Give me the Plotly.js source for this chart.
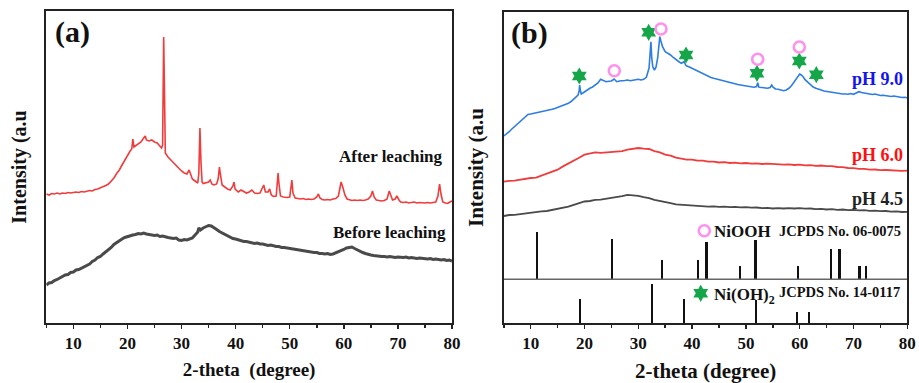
<!DOCTYPE html>
<html>
<head>
<meta charset="utf-8">
<script src="https://cdn.plot.ly/plotly-3.0.1.min.js"></script>
<style>html,body{margin:0;padding:0;background:#fff}#chart{width:919px;height:383px}</style>
</head>
<body>
<div id="chart"></div>
<script>
// ---------- Panel (a): XRD patterns (2-theta, intensity a.u.) ----------
const afterLeaching = [[5,129],[5.5,128],[6,129.5],[6.5,129],[7,130],[7.5,129],[8,130],[8.5,129.5],[9,130.5],[9.5,130],[10,130.5],[10.5,131],[11,130.5],[11.5,131.5],[12,131],[12.5,132],[13,132.5],[13.5,132],[14,133.5],[14.5,134],[15,135],[15.5,136],[16,137.5],[16.5,139],[17,141.5],[17.5,145],[18,149.5],[18.5,153],[19,158],[19.5,163],[20,168],[20.5,172],[20.8,174],[21,184],[21.2,176],[21.5,177],[22,179],[22.5,181],[23,185],[23.3,187],[23.5,183],[24,182],[24.5,183],[25,181],[25.5,180],[26,177],[26.3,175],[26.5,178],[26.6,240],[26.7,286],[26.8,250],[26.9,180],[27,170],[27.5,166],[28,163],[28.5,160],[29,157],[29.5,154],[30,152],[30.5,150],[31,149],[31.4,153],[31.8,146],[32,144],[32.5,142],[33,140],[33.2,150],[33.4,195],[33.6,160],[33.8,141],[34,139.5],[34.5,140],[35,141],[35.3,143],[35.6,139],[36,138],[36.5,139],[36.8,145],[37,156],[37.2,148],[37.5,138],[38,136],[38.5,134],[39,133],[39.5,137],[39.7,141],[39.9,134],[40.5,131],[41,133],[41.5,131.5],[42,130],[42.5,131],[43,133],[43.5,130],[44,129.5],[44.5,130],[45,136],[45.2,138],[45.5,131],[46,131],[46.3,134],[46.6,128],[47,126.5],[47.5,127],[47.7,140],[47.85,150],[48,140],[48.3,127],[48.8,126],[49.5,125.5],[50,126],[50.2,135],[50.4,143],[50.6,130],[51,125],[51.5,124.5],[52,124],[52.5,124.5],[53,123.5],[53.5,124],[54,123.5],[54.5,124],[55,126],[55.3,129],[55.6,125],[56,123.5],[56.5,123],[57,123.5],[57.5,123],[58,124],[58.5,124.5],[59,127],[59.3,137],[59.5,141],[59.8,136],[60.2,128],[60.6,124],[61,123],[61.5,122.5],[62,123],[62.5,122.5],[63,123],[63.5,122.5],[64,123],[64.5,124],[65,127],[65.3,132],[65.6,126],[66,123],[66.5,122.5],[67,122],[67.5,122.5],[68,124],[68.4,132],[68.7,127],[69,123],[69.5,124],[69.8,127],[70.2,123],[70.5,121],[71,120.5],[71.5,121],[72,120],[72.5,120.5],[73,121],[73.5,120],[74,120.5],[75,120],[75.5,120.5],[76,120],[76.5,120.5],[77,121],[77.4,127],[77.7,139],[78,128],[78.3,121],[78.8,120],[79.2,119.5],[79.6,121],[80,122]];

const beforeLeaching = [[5,38],[5.5,40],[6,40.5],[6.5,42.5],[7,43.5],[7.5,45],[8,46],[8.5,48],[9,48.5],[9.5,50.5],[10,51],[10.5,53],[11,53.5],[11.5,55],[12,56],[12.5,58],[13,59],[13.5,61.5],[14,63],[14.5,65.5],[15,66.5],[15.5,69],[16,71],[16.5,73.5],[17,75.5],[17.5,78.5],[18,80.5],[18.5,82.5],[19,84],[19.5,85.5],[20,86.5],[20.5,87],[21,88],[21.5,88.5],[22,89.5],[22.5,89],[23,90],[23.5,89],[24,88.5],[24.5,88.5],[25,87.5],[25.5,88],[26,86.5],[26.5,87],[27,86],[27.5,85.5],[28,85],[28.5,84.5],[29,85],[29.5,83],[30,82.5],[30.5,83.5],[31,83],[31.5,84],[32,85],[32.5,88],[33,91],[33.2,95],[33.5,93],[34,95],[34.5,96.5],[35,97.5],[35.5,97],[36,95.5],[36.5,93.5],[37,91.5],[37.5,90],[38,88.5],[38.5,87],[39,86],[39.5,84.5],[40,84],[40.5,83],[41,82.5],[41.5,81.5],[42,81.5],[42.5,81],[43,80.5],[43.5,79.5],[44,80],[44.5,79],[45,79],[45.5,78.5],[46,77.5],[46.5,78],[47,77],[47.5,76.5],[48,76.5],[48.5,75.5],[49,75.5],[49.5,75],[50,74.5],[50.5,74.5],[51,73.5],[51.5,73.5],[52,73],[52.5,72.5],[53,72],[53.5,71.5],[54,71],[54.5,70.5],[55,70.5],[55.5,69.5],[56,69.5],[56.5,69],[57,69.5],[57.5,68.5],[58,69],[58.5,70],[59,71],[59.5,72.5],[60,73.5],[60.5,75],[61,75.5],[61.5,76],[62,74.5],[62.5,73],[63,72],[63.5,70.5],[64,69.5],[64.5,68.5],[65,68],[65.5,67.5],[66,67],[66.5,67],[67,66.5],[67.5,66.5],[68,66],[68.5,66.5],[69,66],[69.5,65.5],[70,66],[70.5,65.5],[71,65.5],[71.5,66],[72,65],[72.5,65.5],[73,65],[73.5,64.5],[74,65],[74.5,64.5],[75,64.5],[75.5,64],[76,64.5],[76.5,63.5],[77,64],[77.5,63.5],[78,63],[78.5,63.5],[79,62.5],[79.5,63],[80,62]];

// ---------- Panel (b) ----------
const pH90 = [[5,187],[5.5,189],[6,191.3],[6.5,194],[7,196.3],[7.5,199],[8,201.3],[8.5,203.5],[9,206.3],[9.5,208.5],[10,209],[10.5,209.5],[11,210.5],[11.5,210.5],[12,211.3],[12.5,212],[13,212.5],[13.5,213],[14,213.7],[14.5,214.5],[15,215.5],[15.5,216.5],[16,217],[16.5,218.5],[17,219.7],[17.5,221.5],[18,223.7],[18.5,226],[18.8,228],[19,232],[19.1,238],[19.25,232],[19.4,229],[19.7,230],[20,231.3],[20.5,233],[21,234.7],[21.5,236],[22,238],[22.5,240],[23,243.7],[23.5,242.3],[24,241.3],[24.5,241.8],[25,242],[25.5,244],[26,241.3],[26.5,242],[27,242],[27.5,242.5],[28,243],[28.5,242.2],[29,242.7],[29.5,243.3],[30,243.7],[30.5,243],[31,243.7],[31.5,245.7],[31.8,250],[32,255],[32.2,270],[32.35,281.3],[32.5,265],[32.7,256],[33,253],[33.3,256],[33.6,265],[33.8,275],[34,286.3],[34.2,282],[34.5,276.3],[35,271.3],[35.5,270],[36,268],[36.5,265.5],[37,263],[37.5,261.5],[38,259.7],[38.5,261.3],[38.8,258],[39,257],[39.5,256],[40,254.7],[40.5,253],[41,251.5],[41.5,250.5],[42,249],[42.5,248],[43,247],[43.5,245.5],[44,244.7],[44.5,244],[45,243],[45.5,242],[46,241.3],[46.5,241],[47,240],[47.5,239.5],[48,239],[48.5,238.5],[49,238],[49.5,237.5],[50,237],[50.5,236.5],[51,236.5],[51.5,235.7],[52,236.5],[52.2,240.3],[52.4,236],[52.5,235.7],[53,235.5],[53.5,235],[54,234.7],[54.5,235.5],[54.8,238],[55,236],[55.5,234],[56,233.7],[56.5,233],[57,232.3],[57.5,233],[58,234.7],[58.5,237.5],[59,241.3],[59.5,245],[59.8,248],[60,249],[60.3,248],[60.6,246.5],[61,243.3],[61.5,241],[62,238.3],[62.5,236],[63,234.7],[63.5,233.5],[64,233],[64.5,232],[65,231.5],[65.5,231],[66,230.3],[66.5,230],[67,229.5],[67.5,229.3],[68,229],[68.5,229],[69,228.8],[69.5,229.5],[70,228.7],[70.5,230],[71,231.3],[71.5,230.5],[72,230.3],[72.5,229.5],[73,229],[73.5,228.5],[74,229],[74.5,228],[75,227.5],[75.5,227.7],[76,227.3],[76.5,227],[77,226.5],[77.5,227],[78,226.3],[78.5,226],[79,225.5],[79.5,225.7],[80,225.3]];

const pH60 = [[5,141.3],[6,142.2],[7,142.3],[8,143.4],[9,143.8],[10,145],[11,145.3],[12,147.3],[13,148.8],[14,151.6],[15,153.3],[16,156.6],[17,159.2],[18,162.6],[19,165.2],[20,168.3],[21,169.2],[22,170.6],[23,170.2],[24,170.7],[25,170.8],[26,171.6],[27,171.8],[28,173.3],[29,173.8],[30,175],[31,174.3],[32,174],[33,171.8],[34,170.6],[35,168.3],[36,167.3],[37,165.3],[38,164.3],[39,163.3],[40,163.3],[41,162.3],[42,162.3],[43,161.3],[44,161.3],[45,160.5],[46,160.8],[47,160],[48,160.3],[49,159.6],[50,160],[51,159.3],[52,159.6],[53,159],[54,159.3],[55,158.8],[56,159],[57,158.4],[58,158.7],[59,158],[60,158.3],[61,157.6],[62,157.9],[63,157.2],[64,157.5],[65,156.8],[66,156.9],[67,156],[68,155.9],[69,155],[70,154.9],[71,154.1],[72,154.2],[73,153.4],[74,153.5],[75,152.8],[76,153],[77,152.5],[78,152.7],[79,152.2],[80,152.3]];

const pH45 = [[5,107],[6,108],[7,108.1],[8,108.9],[9,109.3],[10,110.5],[11,110.6],[12,111.7],[13,112],[14,113.2],[15,113.8],[16,115.5],[17,116.3],[18,118.2],[19,119.6],[20,121.5],[21,122],[22,123.2],[23,123.3],[24,124.2],[25,124.6],[26,125.9],[27,126.8],[28,128.2],[29,127.6],[30,127.2],[31,125.8],[32,124.9],[33,123.1],[34,122.2],[35,120.6],[36,119.9],[37,118.6],[38,118.2],[39,117.3],[40,117.2],[41,116.6],[42,116.8],[43,116.3],[44,116.6],[45,116.1],[46,116.4],[47,115.9],[48,116.2],[49,115.6],[50,115.9],[51,115.3],[52,115.5],[53,114.9],[54,115.1],[55,114.5],[56,114.9],[57,114.5],[58,114.9],[59,114.5],[60,114.9],[61,114.3],[62,114.5],[63,113.9],[64,114.1],[65,113.5],[66,113.8],[67,113.2],[68,113.5],[69,112.9],[70,113.2],[71,112.6],[72,112.8],[73,112.2],[74,112.4],[75,111.8],[76,112],[77,111.4],[78,111.6],[79,111],[80,111.2]];

// Reference stick patterns
const niooh_pos = [11.17, 25.11, 34.46, 41.1, 42.71, 48.96, 51.82, 59.68, 65.82, 67.43, 71.15, 72.38];
const niooh_top = [91.3, 83.7, 63, 63, 81.3, 57, 83, 57, 74, 74, 57, 57];
const niooh_base = 43.7;
const nioh2_pos = [19.1, 32.49, 38.44, 51.82, 59.55, 61.78];
const nioh2_top = [23.7, 38.7, 23.7, 23, 11.3, 11.3];

// Phase markers on pH 9.0 pattern
const star_x = [19.03, 31.93, 38.87, 52.06, 59.93, 63.09];
const star_y = [247, 290.7, 268, 249.7, 262, 248.3];
const circ_x = [25.54, 34.22, 52.19, 59.93];
const circ_y = [252.3, 294, 263.7, 276];

const FONT = 'Liberation Serif, Times New Roman, serif';
const xs = a => a.map(p => p[0]);
const ys = a => a.map(p => p[1]);

const traces = [
  {x: xs(afterLeaching), y: ys(afterLeaching), mode: 'lines', line: {color: '#f03c3c', width: 1.6}, xaxis: 'x', yaxis: 'y', name: 'After leaching'},
  {x: xs(beforeLeaching), y: ys(beforeLeaching), mode: 'lines', line: {color: '#4a4a4a', width: 3}, xaxis: 'x', yaxis: 'y', name: 'Before leaching'},
  {x: xs(pH90), y: ys(pH90), mode: 'lines', line: {color: '#2e7de2', width: 1.6}, xaxis: 'x2', yaxis: 'y2', name: 'pH 9.0'},
  {x: xs(pH60), y: ys(pH60), mode: 'lines', line: {color: '#f03c3c', width: 1.8}, xaxis: 'x2', yaxis: 'y2', name: 'pH 6.0'},
  {x: xs(pH45), y: ys(pH45), mode: 'lines', line: {color: '#4a4a4a', width: 1.8}, xaxis: 'x2', yaxis: 'y2', name: 'pH 4.5'},
  {type: 'bar', x: niooh_pos, y: niooh_top.map(t => t - niooh_base), base: niooh_base, width: 0.38, marker: {color: '#111'}, xaxis: 'x2', yaxis: 'y2', name: 'NiOOH'},
  {type: 'bar', x: nioh2_pos, y: nioh2_top, base: 0, width: 0.38, marker: {color: '#111'}, xaxis: 'x2', yaxis: 'y2', name: 'Ni(OH)2'},
  {x: star_x.concat([41.6]), y: star_y.concat([29.7]), mode: 'markers', marker: {symbol: 'hexagram', size: 13, color: '#16a64a', line: {width: 0}}, xaxis: 'x2', yaxis: 'y2', name: 'Ni(OH)2 mark'},
  {x: circ_x.concat([42.27]), y: circ_y.concat([92.3]), mode: 'markers', marker: {symbol: 'circle-open', size: 11, color: '#ff90ee', line: {width: 2.6, color: '#ff90ee'}}, xaxis: 'x2', yaxis: 'y2', name: 'NiOOH mark'}
];

const xaxisBase = {
  range: [5, 80], dtick: 10, tick0: 0, ticks: 'outside', ticklen: 4, tickwidth: 1.5, tickcolor: '#222',
  minor: {dtick: 5, ticks: 'outside', ticklen: 3, tickwidth: 1.5, tickcolor: '#222'},
  showline: true, mirror: true, linecolor: '#222', linewidth: 2, showgrid: false, zeroline: false,
  tickfont: {family: FONT, size: 17, weight: 'bold', color: '#111'}, fixedrange: true
};
const yaxisBase = {
  showline: true, mirror: true, linecolor: '#222', linewidth: 2, showgrid: false, zeroline: false,
  showticklabels: false, ticks: '', fixedrange: true
};

const ann = (text, x, y, xref, yref, size, color, xanchor) => ({
  text, x, y, xref, yref, showarrow: false, xanchor: xanchor || 'center', yanchor: 'middle',
  font: {family: FONT, size, color: color || '#111', weight: 'bold'}
});

const layout = {
  width: 919, height: 383, margin: {l: 0, r: 0, t: 0, b: 0},
  paper_bgcolor: '#fff', plot_bgcolor: '#fff', showlegend: false, bargap: 0,
  xaxis: Object.assign({}, xaxisBase, {domain: [46.3/919, 452/919], anchor: 'y',
    title: {text: '2-theta  (degree)', font: {family: FONT, size: 19, weight: 'bold', color: '#111'}, standoff: 10}}),
  yaxis: Object.assign({}, yaxisBase, {domain: [60/383, 372/383], range: [0, 312], anchor: 'x',
    title: {text: 'Intensity (a.u', font: {family: FONT, size: 20, weight: 'bold', color: '#111'}, standoff: 12}}),
  xaxis2: Object.assign({}, xaxisBase, {domain: [503.8/919, 907.3/919], anchor: 'y2',
    title: {text: '2-theta (degree)', font: {family: FONT, size: 21, weight: 'bold', color: '#111'}, standoff: 16}}),
  yaxis2: Object.assign({}, yaxisBase, {domain: [60/383, 371/383], range: [0, 311], anchor: 'x2',
    title: {text: 'Intensity (a.u', font: {family: FONT, size: 21, weight: 'bold', color: '#111'}, standoff: 12}}),
  shapes: [
    {type: 'line', xref: 'x2', yref: 'y2', x0: 5, x1: 80, y0: niooh_base, y1: niooh_base, line: {color: '#666', width: 1.5}}
  ],
  annotations: [
    ann('(a)', 9.8, 291, 'x', 'y', 30),
    ann('After leaching', 68.7, 167, 'x', 'y', 17),
    ann('Before leaching', 68.5, 91, 'x', 'y', 17),
    ann('(b)', 9.78, 289.7, 'x2', 'y2', 30),
    ann('pH 9.0', 74.4, 244, 'x2', 'y2', 18, '#1414f0'),
    ann('pH 6.0', 74.4, 168, 'x2', 'y2', 18, '#ff1010'),
    ann('pH 4.5', 74.4, 123.7, 'x2', 'y2', 18, '#222'),
    ann('NiOOH', 43.75, 91.3, 'x2', 'y2', 17, '#111', 'left'),
    ann('JCPDS No. 06-0075', 55.78, 92, 'x2', 'y2', 14.5, '#111', 'left'),
    ann('Ni(OH)<sub>2</sub>', 43.75, 27.5, 'x2', 'y2', 17, '#111', 'left'),
    ann('JCPDS No. 14-0117', 55.78, 31.3, 'x2', 'y2', 14.5, '#111', 'left')
  ]
};

Plotly.newPlot('chart', traces, layout, {displayModeBar: false, staticPlot: true});
</script>
</body>
</html>
